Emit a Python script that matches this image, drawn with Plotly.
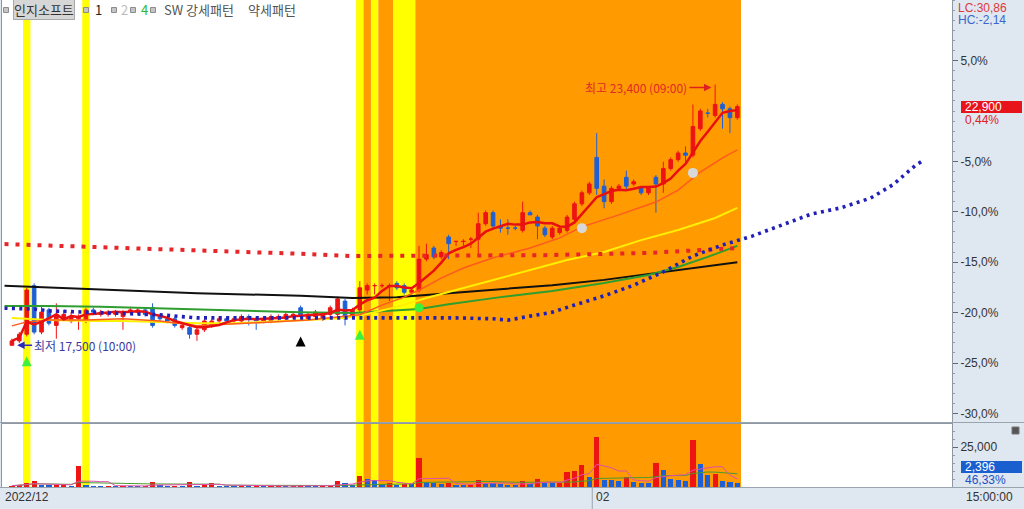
import plotly.graph_objects as go
from plotly.subplots import make_subplots
import pandas as pd

REF_PRICE = 22800  # price at 0 %

# ---------------- candles (one per bar index) ----------------
opens = [17500, 17600, 17750, 18850, 17800, 18300, 17950, 18100, 18050, 18100,
         18050, 18300, 18200, 18200, 18200, 18150, 18250, 18250, 18300, 18350,
         18150, 18100, 18100, 17900, 17900, 17750, 17850, 17950, 18050, 18100,
         18050, 18050, 18150, 18100, 18050, 18050, 18100, 18100, 18150, 18350,
         18100, 18150, 18100, 18200, 18200, 18500, 18150, 18300, 18750, 18850,
         18850, 18850, 18900, 18850, 18700, 18750, 19450, 19700, 19500, 19950,
         19850, 19850, 19900, 19900, 20250, 20500, 20200, 20150, 20150, 20100,
         20500, 20400, 20150, 19950, 20050, 20100, 20350, 20700, 20950, 21750,
         21100, 20750, 21050, 21300, 21150, 21050, 20950, 21300, 21150, 21500,
         21700, 21850, 21800, 22400, 22750, 22700, 22950, 22850, 22650]
highs = [17650, 17800, 18800, 18900, 18400, 18350, 18450, 18300, 18250, 18200,
         18350, 18350, 18300, 18300, 18300, 18300, 18350, 18350, 18350, 18450,
         18200, 18150, 18150, 18000, 17950, 17900, 18100, 18100, 18150, 18150,
         18150, 18200, 18200, 18150, 18150, 18200, 18200, 18250, 18250, 18400,
         18250, 18300, 18250, 18400, 18600, 18550, 18350, 18950, 18900, 18900,
         18900, 18900, 18950, 18900, 18800, 19750, 19800, 19750, 19650, 20000,
         19850, 19900, 19950, 20500, 20550, 20550, 20350, 20350, 20200, 20750,
         20550, 20450, 20200, 20200, 20200, 20450, 20750, 21000, 21200, 22300,
         21250, 21100, 21150, 21450, 21250, 21100, 21100, 21350, 21650, 21750,
         21900, 22000, 22950, 22850, 22850, 23400, 23000, 22900, 22950]
lows = [17500, 17550, 17700, 17750, 17750, 17950, 17650, 18050, 18000, 17850,
        18000, 18200, 18150, 18150, 18150, 17850, 18200, 18200, 18150, 17900,
        18050, 18000, 17900, 17850, 17650, 17600, 17800, 17900, 18000, 18000,
        18000, 18000, 17950, 17850, 18000, 18000, 18050, 18050, 18100, 18100,
        18050, 18100, 18050, 18150, 18150, 17950, 18100, 18250, 18650, 18650,
        18800, 18500, 18750, 18650, 18650, 18700, 19400, 19450, 19450, 19450,
        19750, 19750, 19700, 19550, 20200, 20150, 20050, 20000, 20100, 20050,
        20450, 19900, 19950, 19900, 20000, 20050, 20300, 20650, 20900, 20900,
        20600, 20700, 21000, 21000, 21100, 20900, 20900, 20500, 20950, 21450,
        21650, 21650, 21750, 22350, 22650, 22650, 22400, 22300, 22600]
closes = [17600, 17750, 18750, 17800, 18250, 18000, 18200, 18200, 18150, 18150,
          18300, 18250, 18250, 18250, 18250, 18250, 18300, 18300, 18200, 17950,
          18100, 18050, 17950, 17950, 17750, 17850, 18050, 18050, 18100, 18050,
          18100, 18150, 18100, 18050, 18100, 18150, 18150, 18200, 18200, 18150,
          18200, 18250, 18200, 18350, 18550, 18100, 18300, 18800, 18850, 18850,
          18850, 18850, 18800, 18700, 18750, 19450, 19550, 19500, 19600, 19800,
          19850, 19850, 19900, 20250, 20500, 20200, 20150, 20150, 20150, 20500,
          20450, 20200, 20000, 20150, 20150, 20400, 20700, 20950, 21150, 21050,
          20750, 21050, 21100, 21100, 21200, 20950, 21050, 21150, 21500, 21700,
          21850, 21800, 22450, 22800, 22750, 22950, 22850, 22650, 22900]
volumes = [800, 1200, 2600, 3600, 1500, 1000, 1400, 2000, 900, 13000,
           1500, 700, 600, 800, 600, 900, 600, 500, 700, 3200,
           1000, 700, 800, 600, 3200, 900, 1200, 2500, 800, 700,
           600, 800, 600, 700, 500, 600, 700, 600, 600, 1200,
           700, 600, 700, 900, 3600, 2700, 1200, 6800, 5000, 4200,
           1800, 2400, 1500, 2000, 1800, 18000, 3000, 2500, 1800, 2200,
           1500, 1200, 1400, 4600, 2800, 2200, 1600, 1500, 1200, 3800,
           1800, 5000, 2600, 2200, 2400, 9600, 10200, 13800, 6000, 31300,
           4500, 4400, 3600, 6500, 3000, 2600, 2200, 15000, 10600, 5000,
           4200, 3500, 29400, 14400, 7800, 8200, 3600, 3100, 2396]
bars = list(range(len(closes)))

# ---------------- indicator lines (bar index, price) ----------------
ma120_x = [-1, 12, 25, 39, 46, 52, 59, 66, 73, 80, 86, 93, 98]
ma120_y = [18850, 18770, 18680, 18620, 18570, 18590, 18680, 18770, 18860, 18980, 19110, 19270, 19380]

ma60_x = [-1, 5, 12, 19, 25, 32, 39, 46, 52, 55, 59, 66, 73, 80, 86, 90, 94, 98]
ma60_y = [18390, 18390, 18370, 18340, 18300, 18280, 18250, 18230, 18280, 18320, 18430, 18590,
          18730, 18910, 19090, 19270, 19500, 19750]

ma20_x = [0, 5, 10, 15, 20, 25, 30, 35, 40, 45, 48, 52, 56, 60, 65, 70, 75, 80, 85, 90, 95, 98]
ma20_y = [18120, 18070, 18050, 18050, 18030, 18000, 18000, 18030, 18070, 18120, 18210, 18370,
          18570, 18750, 18980, 19200, 19430, 19610, 19880, 20110, 20380, 20610]

ma10_x = [0, 2, 5, 10, 15, 20, 25, 30, 35, 40, 45, 47, 50, 53, 55, 58, 61, 65, 70, 74, 77, 82,
          87, 90, 93, 96, 98]
ma10_y = [17940, 18030, 18070, 18070, 18100, 18050, 17940, 17980, 18030, 18070, 18160, 18190,
          18410, 18590, 18750, 19020, 19250, 19480, 19700, 19930, 20180, 20450, 20740, 21010,
          21420, 21740, 21920]

red_dot_x = [-1, 12, 25, 39, 46, 55, 72, 86, 98]
red_dot_y = [19790, 19720, 19660, 19570, 19520, 19520, 19540, 19590, 19700]

blue_dot_x = [-1, 3, 5, 10, 15, 20, 25, 30, 35, 40, 45, 50, 55, 60, 65, 67, 70, 73, 76, 80, 84,
              88, 92, 96, 100, 104, 108, 112, 116, 119, 122, 123]
blue_dot_y = [18340, 18320, 18280, 18250, 18230, 18190, 18120, 18120, 18120, 18140, 18140,
              18120, 18120, 18120, 18100, 18070, 18160, 18250, 18410, 18620, 18860, 19160,
              19520, 19770, 19970, 20220, 20470, 20610, 20830, 21130, 21560, 21670]

# signal markers
green_up_x, green_up_y = [2, 47], [17250, 17850]
black_up_x, black_up_y = [39], [17700]
green_dot_x, green_dot_y = [55], [18350]
gray_dot_x, gray_dot_y = [77, 92], [20150, 21400]

# background pattern bands (first bar, last bar)
yellow_bands = [(2, 2), (10, 10), (47, 47), (49, 49), (52, 54)]
orange_bands = [(48, 48), (50, 51), (55, 98)]

pct_ticks = [5, -5, -10, -15, -20, -25, -30]
month_labels = ["2022/12", "02"]
month_pos = [-1.3, 78.4]

low_text = "최저 17,500 (10:00)"
high_text = "최고 23,400 (09:00)"

# ---------------- figure ----------------
W, H = 1024, 509
ML, MR, MT, MB = 2, 72, 0, 22
PW, PH = W - ML - MR, H - MT - MB


def pxx(px):
    return (px - ML) / PW


def pxy(py):
    return 1 - (py - MT) / PH


fig = make_subplots(rows=2, cols=1, shared_xaxes=True, vertical_spacing=2 / PH,
                    row_heights=[422, 63])

RED = "#ee1414"
BLUE = "#1f5fd6"
KR = "Noto Sans CJK KR"

fig.add_trace(go.Scatter(x=ma120_x, y=ma120_y, mode="lines", line=dict(color="#111111", width=2)), 1, 1)
fig.add_trace(go.Scatter(x=ma60_x, y=ma60_y, mode="lines", line=dict(color="#2e9e2e", width=2)), 1, 1)
fig.add_trace(go.Scatter(x=ma20_x, y=ma20_y, mode="lines", line=dict(color="#ffef00", width=2)), 1, 1)
fig.add_trace(go.Scatter(x=ma10_x, y=ma10_y, mode="lines", line=dict(color="#ff5a1e", width=1.5)), 1, 1)

fig.add_trace(go.Candlestick(
    x=bars, open=opens, high=highs, low=lows, close=closes,
    increasing=dict(line=dict(color=RED, width=1), fillcolor=RED),
    decreasing=dict(line=dict(color=BLUE, width=1), fillcolor=BLUE),
    whiskerwidth=0), 1, 1)

ma5 = pd.Series(closes).rolling(5, min_periods=1).mean()
fig.add_trace(go.Scatter(x=bars, y=ma5, mode="lines", line=dict(color="#e81010", width=2.5)), 1, 1)

fig.add_trace(go.Scatter(x=red_dot_x, y=red_dot_y, mode="lines",
                         line=dict(color="#e8262a", width=4, dash="4px,7px")), 1, 1)
fig.add_trace(go.Scatter(x=blue_dot_x, y=blue_dot_y, mode="lines",
                         line=dict(color="#2020b8", width=3.6, dash="3px,4.4px")), 1, 1)

fig.add_trace(go.Scatter(x=green_up_x, y=green_up_y, mode="markers",
                         marker=dict(symbol="arrow-up", size=10, color="#3ff03f",
                                     line=dict(width=0))), 1, 1)
fig.add_trace(go.Scatter(x=black_up_x, y=black_up_y, mode="markers",
                         marker=dict(symbol="arrow-up", size=10, color="#000000",
                                     line=dict(width=0))), 1, 1)
fig.add_trace(go.Scatter(x=green_dot_x, y=green_dot_y, mode="markers",
                         marker=dict(symbol="circle", size=9, color="#3df03d")), 1, 1)
fig.add_trace(go.Scatter(x=gray_dot_x, y=gray_dot_y, mode="markers",
                         marker=dict(symbol="circle", size=10, color="#d8d8d8")), 1, 1)

# volume
vol_colors = [RED] + [RED if volumes[i] >= volumes[i - 1] else BLUE for i in range(1, len(volumes))]
fig.add_trace(go.Bar(x=bars, y=volumes, marker=dict(color=vol_colors, line=dict(width=0)),
                     width=0.7), 2, 1)
vma5 = pd.Series(volumes).rolling(5, min_periods=1).mean()
vma20 = pd.Series(volumes).rolling(20, min_periods=1).mean()
fig.add_trace(go.Scatter(x=bars, y=vma20, mode="lines", line=dict(color="#4a9a30", width=1)), 2, 1)
fig.add_trace(go.Scatter(x=bars, y=vma5, mode="lines", line=dict(color="#e050a8", width=1)), 2, 1)

# bands
shapes = []
for bands, col in ((yellow_bands, "#ffff00"), (orange_bands, "#ff9a00")):
    for s, e in bands:
        for yr in ("y domain", "y2 domain"):
            shapes.append(dict(type="rect", xref="x", yref=yr, x0=s - 0.5, x1=e + 0.5,
                               y0=0, y1=1, fillcolor=col, line=dict(width=0), layer="below"))

# frame lines across right strip
for py in (422.5, 487.5):
    shapes.append(dict(type="line", xref="paper", yref="paper", x0=pxx(0), x1=pxx(W),
                       y0=pxy(py), y1=pxy(py), line=dict(color="#9aa4ae", width=1)))
shapes.append(dict(type="line", xref="x", yref="paper", x0=month_pos[1], x1=month_pos[1],
                   y0=pxy(488), y1=pxy(H), line=dict(color="#9aa4ae", width=1)))
# legend squares
for sx in (6, 86, 114, 133, 153):
    shapes.append(dict(type="rect", xref="paper", yref="paper", x0=pxx(sx - 2.5), x1=pxx(sx + 2.5),
                       y0=pxy(12.5), y1=pxy(7.5), fillcolor="#c4c4c4",
                       line=dict(color="#8c8c8c", width=1)))
# small icon in volume axis
shapes.append(dict(type="rect", xref="paper", yref="paper", x0=pxx(1012), x1=pxx(1019),
                   y0=pxy(434), y1=pxy(427), fillcolor="#555555", line=dict(color="#777", width=1)))
# price label boxes
shapes.append(dict(type="rect", xref="paper", yref="paper", x0=pxx(961), x1=pxx(1022),
                   y0=pxy(113), y1=pxy(101), fillcolor="#e8141c", line=dict(width=0)))
shapes.append(dict(type="rect", xref="paper", yref="paper", x0=pxx(961), x1=pxx(1022),
                   y0=pxy(473), y1=pxy(461), fillcolor="#1a5fd0", line=dict(width=0)))

last_pct = (closes[-1] / REF_PRICE - 1) * 100

ann = []


def add_text(px, py, text, color, size=12, family="Liberation Sans", anchor="left", **kw):
    ann.append(dict(x=pxx(px), y=pxy(py), xref="paper", yref="paper", text=text, showarrow=False,
                    xanchor=anchor, yanchor="middle", font=dict(color=color, size=size, family=family),
                    **kw))


add_text(13, 10, "인지소프트", "#333333", 13, KR, bgcolor="#d6d6d6", bordercolor="#a8a8a8",
         borderwidth=1, borderpad=0)
add_text(93, 10, "1", "#222222", 13, KR)
add_text(119, 10, "2", "#bbbbbb", 13, KR)
add_text(139, 10, "4", "#2eb82e", 13, KR)
add_text(162, 10, "SW 강세패턴", "#555555", 13, KR)
add_text(246, 10, "약세패턴", "#555555", 13, KR)

add_text(956, 8, "LC:30,86", "#e03a3a", 12)
add_text(956, 20, "HC:-2,14", "#3a66cc", 12)
add_text(963, 107, f"{closes[-1]:,}", "#ffffff", 12)
add_text(963, 120, f"{last_pct:.2f}%".replace(".", ","), "#e02020", 12)
add_text(963, 467, f"{volumes[-1]:,}", "#ffffff", 12)
add_text(963, 480, "46,33%", "#2050c8", 12)
add_text(964, 497, "15:00:00", "#333333", 12)
add_text(3, 497, month_labels[0], "#333333", 12)
ann.append(dict(x=month_pos[1], y=pxy(497), xref="x", yref="paper", text=month_labels[1],
                showarrow=False, xanchor="left", yanchor="middle", xshift=2,
                font=dict(color="#333333", size=12, family="Liberation Sans")))

ann.append(dict(x=0.7, y=lows[0], xref="x", yref="y", text=low_text, showarrow=True,
                ax=15, ay=0, xanchor="left", arrowcolor="#2a2ab8", arrowhead=2, arrowwidth=1.5,
                arrowsize=1, font=dict(color="#3a3aa0", size=12, family=KR)))
ann.append(dict(x=94.5, y=23330, xref="x", yref="y", text=high_text, showarrow=True,
                ax=-22, ay=0, xanchor="right", arrowcolor="#e02020", arrowhead=2, arrowwidth=1.5,
                arrowsize=1, font=dict(color="#e02a2a", size=12, family=KR)))

pct_top, pct_bot = (111) / 10.08, -(422 - 111) / 10.08

fig.update_layout(
    width=W, height=H, margin=dict(l=ML, r=MR, t=MT, b=MB),
    paper_bgcolor="#dfe7f0", plot_bgcolor="#ffffff", showlegend=False,
    shapes=shapes, annotations=ann, bargap=0, hovermode=False,
    font=dict(family="Liberation Sans", size=12, color="#333333"),
)
axis_common = dict(showgrid=False, zeroline=False, showline=True, mirror=True, linecolor="#8e98a3",
                   linewidth=1)
fig.update_xaxes(range=[-1.34, 127.0], showticklabels=False, ticks="", rangeslider_visible=False,
                 **axis_common)
fig.update_yaxes(row=1, col=1, side="right",
                 range=[REF_PRICE * (1 + pct_bot / 100), REF_PRICE * (1 + pct_top / 100)],
                 tickmode="array", tickvals=[REF_PRICE * (1 + p / 100) for p in pct_ticks],
                 ticktext=[f"{p:.1f}%".replace(".", ",") for p in pct_ticks],
                 ticks="outside", ticklen=5, tickcolor="#667", tickfont=dict(size=12, color="#333"),
                 minor=dict(tickmode="linear", tick0=REF_PRICE, dtick=REF_PRICE * 0.01,
                            ticks="outside", ticklen=2, tickcolor="#99a"),
                 **axis_common)
fig.update_yaxes(row=2, col=1, side="right", range=[0, 39400],
                 tickmode="array", tickvals=[25000], ticktext=["25,000"],
                 ticks="outside", ticklen=5, tickcolor="#667", tickfont=dict(size=12, color="#333"),
                 minor=dict(tickmode="linear", tick0=0, dtick=5000, ticks="outside", ticklen=2,
                            tickcolor="#99a"),
                 **axis_common)

fig.write_html("out.html", config={"displayModeBar": False, "staticPlot": True},
               post_script="document.body.style.margin='0px';")
